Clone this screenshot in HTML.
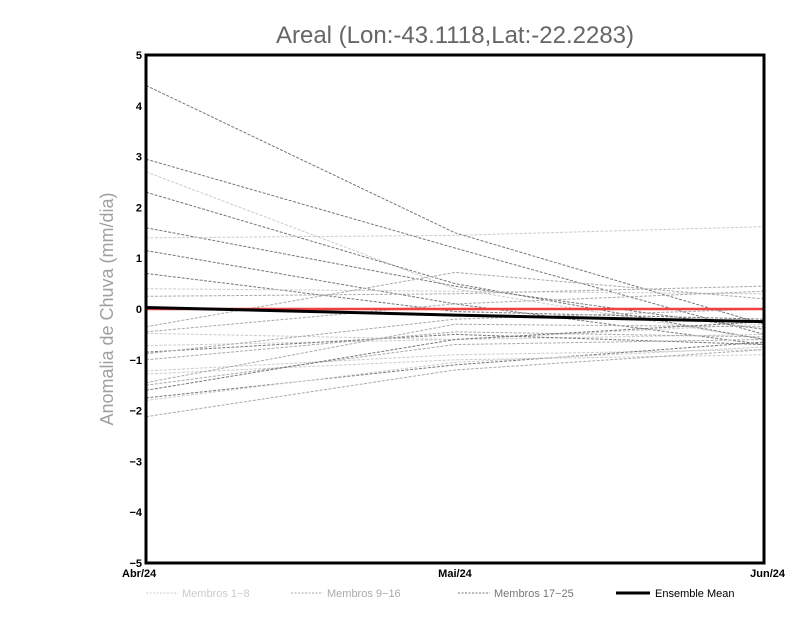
<!DOCTYPE html>
<html><head><meta charset="utf-8"><style>
body{margin:0;background:#fff;width:800px;height:618px;overflow:hidden}
svg text{font-family:"Liberation Sans",sans-serif}
</style></head><body>
<svg id="chart" width="800" height="618">
<text x="455" y="43" text-anchor="middle" font-size="24" fill="#666">Areal (Lon:-43.1118,Lat:-22.2283)</text>
<text transform="translate(113,309) rotate(-90)" text-anchor="middle" font-size="18" fill="#a0a0a0">Anomalia de Chuva (mm/dia)</text>
<g id="series"></g>
<g id="axes"></g>
<g font-size="11">
<line x1="146" y1="593" x2="178" y2="593" stroke="#ccc" stroke-dasharray="2,1.5"/>
<text x="182" y="597" fill="#ccc">Membros 1−8</text>
<line x1="291" y1="593" x2="323" y2="593" stroke="#aaa" stroke-dasharray="2,1.5"/>
<text x="327" y="597" fill="#aaa">Membros 9−16</text>
<line x1="458" y1="593" x2="490" y2="593" stroke="#777" stroke-dasharray="2,1.5"/>
<text x="494" y="597" fill="#777">Membros 17−25</text>
<line x1="616" y1="593" x2="650" y2="593" stroke="#000" stroke-width="3"/>
<text x="655" y="597" fill="#000">Ensemble Mean</text>
</g>
</svg>
<script>
const categories=["Abr/24","Mai/24","Jun/24"];
const yTicks=[-5,-4,-3,-2,-1,0,1,2,3,4,5];
const groups=[2,2,0,2,2,0,2,2,0,1,1,1,0,0,2,1,1,0,0,1,1,2,2,0,1];
const members=[
[4.4,1.5,-0.3],[2.95,1.2,-0.5],[2.7,0.4,-0.6],[2.3,0.5,-0.6],[1.6,0.45,-0.4],
[1.4,1.45,1.62],[1.15,0.1,-0.7],[0.7,-0.05,-0.2],[0.4,0.35,0.3],[0.25,0.3,0.45],
[-0.35,0.72,0.2],[-0.45,0.1,0.35],[-0.48,-0.6,-0.5],[-0.72,-0.6,-0.3],[-0.85,-0.5,-0.7],
[-0.88,-0.2,0.0],[-1.0,-0.45,-0.55],[-1.22,-0.9,-0.8],[-1.28,-1.0,-0.9],[-1.45,-0.3,-0.35],
[-1.5,-0.7,-0.6],[-1.6,-0.6,-0.25],[-1.75,-1.1,-0.65],[-1.8,-1.05,-0.75],[-2.12,-1.2,-0.8]];
const ensembleMean=[0.03,-0.12,-0.25];
const zeroLine=[0,0,0];
const X0=146,X1=764,Y0=55,Y1=563;
const xs=i=>X0+(X1-X0)*i/(categories.length-1);
const ys=v=>Y0+(5-v)/10*(Y1-Y0);
const NS="http://www.w3.org/2000/svg";
const colors=["#cccccc","#aaaaaa","#777777"];
const sg=document.getElementById('series');
function poly(vals,stroke,w,dash,name){
 const p=document.createElementNS(NS,'polyline');
 p.setAttribute('points',vals.map((v,i)=>xs(i)+','+ys(v)).join(' '));
 p.setAttribute('fill','none');p.setAttribute('stroke',stroke);p.setAttribute('stroke-width',w);
 if(dash)p.setAttribute('stroke-dasharray',dash);
 
 
 sg.appendChild(p);
}
members.forEach((m,k)=>poly(m,colors[groups[k]],1,"3,1.5","member-line-"+(k+1)));
poly(zeroLine,"#f04040",2.5,null,"zero-line");
poly(ensembleMean,"#000",3,null,"ensemble-mean-line");
const ag=document.getElementById('axes');
const r=document.createElementNS(NS,'rect');
r.setAttribute('x',X0);r.setAttribute('y',Y0);r.setAttribute('width',X1-X0);r.setAttribute('height',Y1-Y0);
r.setAttribute('fill','none');r.setAttribute('stroke','#000');r.setAttribute('stroke-width','3');


ag.appendChild(r);
yTicks.forEach(v=>{
 const t=document.createElementNS(NS,'text');
 t.setAttribute('x',X0-4);t.setAttribute('y',ys(v)+4);t.setAttribute('text-anchor','end');
 t.setAttribute('font-size','11');t.setAttribute('font-weight','bold');
 t.textContent=(v<0?'−':'')+Math.abs(v);
 
 
 ag.appendChild(t);
});
categories.forEach((c,i)=>{
 const t=document.createElementNS(NS,'text');
 t.setAttribute('x',xs(i));t.setAttribute('y',Y1+14);
 t.setAttribute('text-anchor',i==0?'start':(i==categories.length-1?'end':'middle'));
 if(i==0)t.setAttribute('x',xs(i)-24);
 if(i==categories.length-1)t.setAttribute('x',xs(i)+21);
 t.setAttribute('font-size','11');t.setAttribute('font-weight','bold');
 t.textContent=c;
 
 
 ag.appendChild(t);
});
</script>
</body></html>
